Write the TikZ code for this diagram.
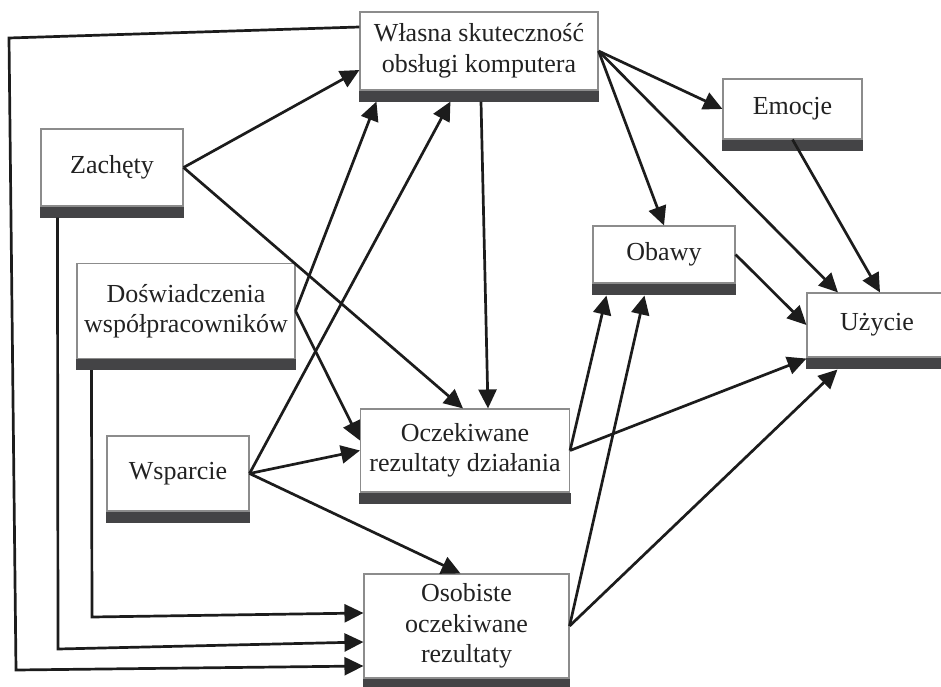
\documentclass[tikz,border=0pt]{standalone}
\usepackage{fontspec}
\setmainfont{Liberation Serif}
\usetikzlibrary{arrows.meta}
\definecolor{ink}{HTML}{1C1C1C}
\definecolor{txt}{HTML}{222222}
\definecolor{barc}{HTML}{444446}
\definecolor{edge}{HTML}{8C8C8C}
\begin{document}
\begin{tikzpicture}[x=1pt,y=-1pt,
  box/.style={draw=edge, line width=1.1pt, fill=white, text=txt, align=center,
    inner sep=0pt, font=\fontsize{26}{30.5}\selectfont},
  link/.style={draw=ink, line width=2.7pt, -{Triangle[length=19pt,width=18pt]}},
  bar/.style={fill=barc}
  ]
\useasboundingbox (0,0) rectangle (941,687);

% boxes (white part; the dark strip is added below)
\node[box, minimum width=238pt, minimum height=78pt]  (wl) at (479,51)    {Własna skuteczność\\obsługi komputera};
\node[box, minimum width=142pt, minimum height=77pt]  (za) at (112,167.5) {Zachęty};
\node[box, minimum width=218pt, minimum height=95pt]  (do) at (186,311)   {Doświadczenia\\współpracowników};
\node[box, minimum width=142pt, minimum height=75pt]  (ws) at (178,473.5) {Wsparcie};
\node[box, minimum width=209pt, minimum height=83pt]  (oc) at (465,450.5) {Oczekiwane\\rezultaty działania};
\node[box, minimum width=205pt, minimum height=104pt] (os) at (466.5,626) {Osobiste\\oczekiwane\\rezultaty};
\node[box, minimum width=139pt, minimum height=60pt]  (em) at (792.5,109) {Emocje};
\node[box, minimum width=142pt, minimum height=57pt]  (ob) at (664,254.5) {Obawy};
\node[box, minimum width=140pt, minimum height=64pt]  (uz) at (877,325)   {Użycie};

% dark strip under every box
\foreach \n in {wl,za,do,ws,oc,os,em,ob,uz}
  \fill[bar] ([xshift=-0.5pt]\n.south west) rectangle ([xshift=0.5pt,yshift=-11pt]\n.south east);

% straight connectors
\draw[link] (za.east) -- ([yshift=-19pt]wl.west);
\draw[link] (za.east) -- ([xshift=-2pt]oc.north);
\draw[link] (do.east) -- ([xshift=17pt,yshift=-11pt]wl.south west);
\draw[link] (do.east) -- ([yshift=10pt]oc.west);
\draw[link] (ws.east) -- ([xshift=91pt,yshift=-11pt]wl.south west);
\draw[link] (ws.east) -- (oc.west);
\draw[link] (ws.east) -- ([xshift=-6pt]os.north);
\draw[link] ([xshift=2pt,yshift=-11pt]wl.south) -- ([xshift=23pt]oc.north);
\draw[link] (wl.east) -- (em.west);
\draw[link] (wl.east) -- (ob.north);
\draw[link] (wl.east) -- ([xshift=-39pt]uz.north);
\draw[link] (em.south) -- ([xshift=3pt]uz.north);
\draw[link] (ob.east) -- (uz.west);
\draw[link] (oc.east) -- ([xshift=14pt,yshift=-12pt]ob.south west);
\draw[link] (oc.east) -- ([yshift=-1pt]uz.south west);
\draw[link] (os.east) -- ([xshift=52pt,yshift=-12pt]ob.south west);
\draw[link] (os.east) -- ([xshift=31pt,yshift=-12pt]uz.south west);

% elbow connectors running round the left side
\coordinate (dk) at (92,617);
\coordinate (zk) at (58,649);
\coordinate (wk1) at (9,38);
\coordinate (wk2) at (16,670);
\draw[link] ([xshift=15pt,yshift=-11pt]do.south west) -- (dk) -- ([yshift=13pt]os.west);
\draw[link] ([xshift=17pt,yshift=-11pt]za.south west) -- (zk) -- ([yshift=-16pt]os.west);
\draw[link] ([yshift=24pt]wl.west) -- (wk1) -- (wk2) -- ([yshift=-40pt]os.west);
\end{tikzpicture}
\end{document}
